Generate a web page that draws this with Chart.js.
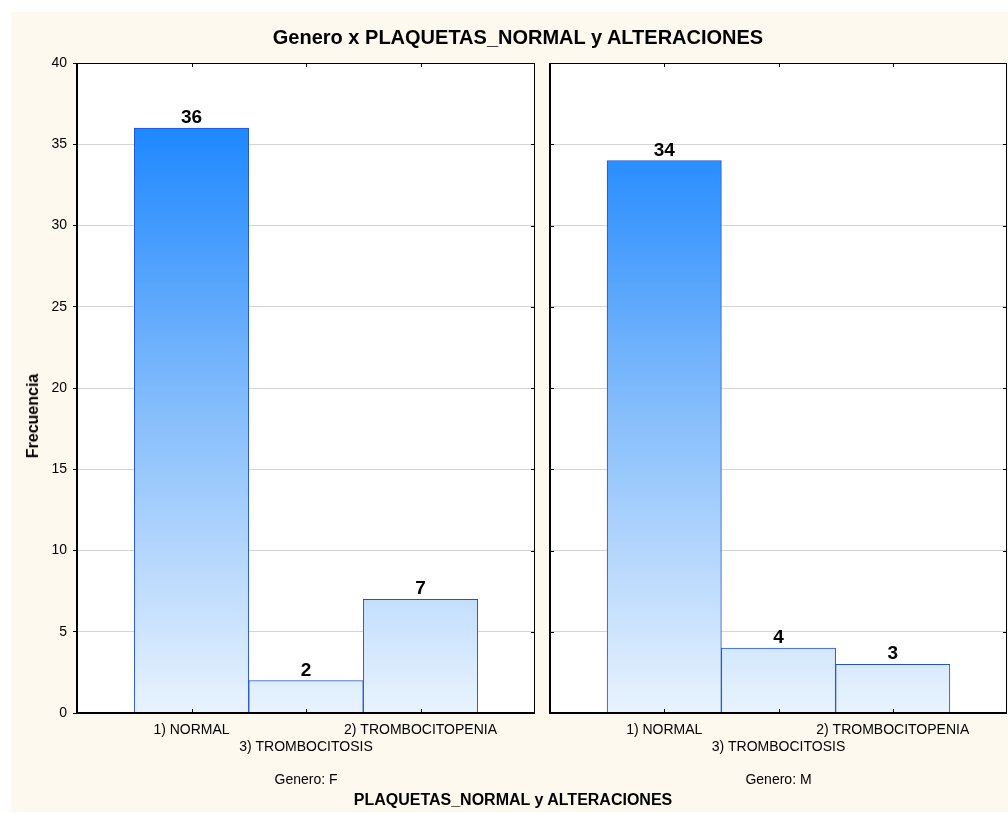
<!DOCTYPE html>
<html>
<head>
<meta charset="utf-8">
<script src="https://cdn.jsdelivr.net/npm/chart.js@4.4.1/dist/chart.umd.min.js"></script>
<style>
  body { margin: 0; background: #fff; width: 1008px; height: 813px; position: relative; overflow: hidden; font-family: "Liberation Sans", Arial, sans-serif; }
  #panel { position: absolute; left: 11px; top: 12px; width: 997px; height: 800px; background: #fdf9ee; }
  canvas { position: absolute; top: 0; }
  #chartF { left: 0; }
  #chartM { left: 540px; }
  .txt { position: absolute; transform: translate(-50%, -50%); white-space: nowrap; line-height: 1; color: #000; font-weight: bold; }
  #title { left: 518px; top: 37px; font-size: 20px; }
  #xTitle { left: 513px; top: 800px; font-size: 16px; }
  #yTitle { left: 33px; top: 416px; font-size: 16px; transform: translate(-50%, -50%) rotate(-90deg); }
</style>
</head>
<body>
<div id="panel"></div>
<canvas id="chartF" width="545" height="813"></canvas>
<canvas id="chartM" width="476" height="813"></canvas>
<div class="txt" id="title">Genero x PLAQUETAS_NORMAL y ALTERACIONES</div>
<div class="txt" id="yTitle">Frecuencia</div>
<div class="txt" id="xTitle">PLAQUETAS_NORMAL y ALTERACIONES</div>
<script>
// data
const categories = ['1) NORMAL', '3) TROMBOCITOSIS', '2) TROMBOCITOPENIA'];
const countsF = [36, 2, 7];
const countsM = [34, 4, 3];
const generoF = 'Genero: F';
const generoM = 'Genero: M';
const yMax = 40;
const yStep = 5;

Chart.defaults.font.family = '"Liberation Sans", Arial, sans-serif';
Chart.defaults.color = '#000';

// vertical blue fade, tied to the plot area so short bars stay pale
function barGradient(context) {
    const chart = context.chart;
    const area = chart.chartArea;
    if (!area) return '#7db9fb';
    const g = chart.ctx.createLinearGradient(0, area.bottom, 0, area.top);
    g.addColorStop(0, '#e9f3fe');
    g.addColorStop(0.5, '#7db9fb');
    g.addColorStop(0.9, '#1e88ff');
    g.addColorStop(1, '#1a84ff');
    return g;
}

// white plot area, black frame and the small inward tick marks
const framePlugin = {
    id: 'frame',
    beforeDraw(chart) {
        const { ctx, chartArea: a } = chart;
        ctx.save();
        ctx.fillStyle = '#fff';
        ctx.fillRect(a.left, a.top, a.right - a.left, a.bottom - a.top);
        ctx.restore();
    },
    afterDatasetsDraw(chart, args, opts) {
        const { ctx, chartArea: a, scales } = chart;
        ctx.save();
        ctx.strokeStyle = '#000';
        ctx.lineWidth = 1;
        ctx.strokeRect(a.left + 0.5, a.top + 0.5, a.right - a.left - 1, a.bottom - a.top - 1);
        ctx.lineWidth = 2;
        ctx.beginPath();
        ctx.moveTo(a.left, a.top);
        ctx.lineTo(a.left, a.bottom);
        ctx.lineTo(a.right, a.bottom);
        ctx.stroke();
        ctx.lineWidth = 1;
        ctx.beginPath();
        for (let i = 0; i < categories.length; i++) {
            const x = Math.round(scales.x.getPixelForValue(i + 1)) + 0.5;
            ctx.moveTo(x, a.bottom);
            ctx.lineTo(x, a.bottom - 4);
            ctx.moveTo(x, a.top);
            ctx.lineTo(x, a.top + 4);
        }
        scales.y.ticks.forEach(t => {
            const y = Math.round(scales.y.getPixelForValue(t.value)) + 0.5;
            if (opts.left) { ctx.moveTo(a.left, y); ctx.lineTo(a.left + 4, y); }
            if (opts.right) { ctx.moveTo(a.right, y); ctx.lineTo(a.right - 4, y); }
        });
        ctx.stroke();
        ctx.restore();
    }
};

const valueLabels = {
    id: 'valueLabels',
    afterDatasetsDraw(chart) {
        const ctx = chart.ctx;
        const ds = chart.data.datasets[0];
        ctx.save();
        ctx.font = 'bold 19px "Liberation Sans", Arial, sans-serif';
        ctx.fillStyle = '#000';
        ctx.textAlign = 'center';
        ctx.textBaseline = 'alphabetic';
        chart.getDatasetMeta(0).data.forEach((bar, i) => {
            ctx.fillText(ds.data[i].y, bar.x, bar.y - 5);
        });
        ctx.restore();
    }
};

function makeChart(id, counts, genero, showY, yWidth, padRight, frameOpts) {
    return new Chart(document.getElementById(id), {
        type: 'bar',
        data: {
            datasets: [{
                data: counts.map((v, i) => ({ x: i + 1, y: v })),
                backgroundColor: barGradient,
                borderColor: '#2152d2',
                borderWidth: 1,
                barPercentage: 1,
                categoryPercentage: 1
            }]
        },
        options: {
            responsive: false,
            animation: false,
            events: [],
            layout: { padding: { left: 0, top: 63, right: padRight, bottom: 24 } },
            plugins: {
                legend: { display: false },
                tooltip: { enabled: false },
                frame: frameOpts
            },
            scales: {
                x: {
                    type: 'linear',
                    min: 0,
                    max: categories.length + 1,
                    offset: false,
                    grid: { display: false, drawTicks: false },
                    border: { display: false },
                    ticks: {
                        stepSize: 1,
                        autoSkip: false,
                        maxRotation: 0,
                        padding: 9,
                        font: { size: 14 },
                        callback: v => {
                            const i = v - 1;
                            if (i < 0 || i >= categories.length) return '';
                            return i % 2 ? ['', categories[i]] : categories[i];
                        }
                    },
                    title: { display: true, text: genero, font: { size: 14 }, padding: 0 },
                    afterFit: s => { s.height = 76; }
                },
                y: {
                    min: 0,
                    max: yMax,
                    ticks: { stepSize: yStep, display: showY, padding: 6, font: { size: 14 } },
                    grid: { color: '#d4d4d4', tickColor: '#000', tickLength: 4, drawTicks: showY },
                    border: { display: false },
                    afterFit: s => { s.width = yWidth; }
                }
            }
        },
        plugins: [framePlugin, valueLabels]
    });
}

makeChart('chartF', countsF, generoF, true, 77, 10, { left: false, right: true });
makeChart('chartM', countsM, generoM, false, 10, 9, { left: true, right: true });
</script>
</body>
</html>
